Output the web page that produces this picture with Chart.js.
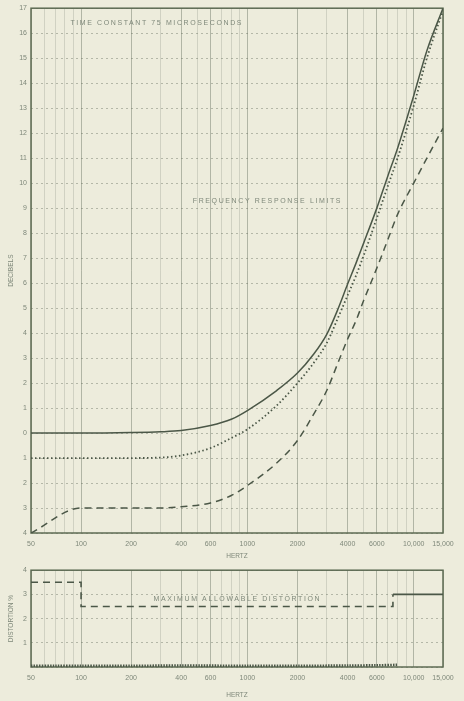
<!DOCTYPE html>
<html><head><meta charset="utf-8">
<script src="https://cdn.jsdelivr.net/npm/chart.js@4.4.1/dist/chart.umd.min.js"></script>
<style>
html,body{margin:0;padding:0;background:#edecdc;}
#wrap{position:relative;width:464px;height:701px;overflow:hidden;background:#edecdc;}
#c1{position:absolute;left:0;top:0;}
#c2{position:absolute;left:0;top:562px;}
</style></head><body>
<div id="wrap"><canvas id="c1" width="464" height="562"></canvas><canvas id="c2" width="464" height="139"></canvas></div>
<script>
// ---------- DATA ----------
const freqs = [50,100,200,300,400,600,800,1000,1500,2000,2500,3000,3500,4000,4500,5000,6000,7000,8000,10000,12000,15000];
const standardCurve = [0,0,0.02,0.05,0.1,0.3,0.55,0.9,1.7,2.4,3.15,3.95,4.95,5.95,6.8,7.6,9.0,10.3,11.4,13.5,15.3,17.0];
const dottedLimit   = [-1,-1,-1,-0.98,-0.9,-0.6,-0.2,0.15,1.1,2.0,2.8,3.6,4.6,5.5,6.3,7.1,8.6,9.9,11.0,13.1,15.0,16.9];
const lowerLimit    = [-4,-3,-3,-3,-2.95,-2.8,-2.5,-2.1,-1.2,-0.3,0.75,1.7,2.8,3.75,4.5,5.3,6.6,7.75,8.75,10.0,11.0,12.2];

const distLimitFreqs = [50,100,7500,15000];
const distLimitVals  = [3.5,2.5,3.0,3.0];
const distMeasFreqs  = [50,70,100,200,400,1000,2000,4000,6000,8000];
const distMeasVals   = [0.05,0.05,0.05,0.05,0.06,0.05,0.05,0.06,0.07,0.09];

const gridFreqs = [50,60,70,80,90,100,200,300,400,500,600,700,800,900,1000,2000,3000,4000,5000,6000,7000,8000,9000,10000,15000];
const labelFreqs = [50,100,200,400,600,1000,2000,4000,6000,10000,15000];
const labelTexts = ['50','100','200','400','600','1000','2000','4000','6000','10,000','15,000'];

const noteTexts = ['TIME CONSTANT 75 MICROSECONDS','FREQUENCY RESPONSE LIMITS'];
const noteFreqs = [285,1320];
const noteVals  = [16.4,9.3];
const distNoteText = 'MAXIMUM ALLOWABLE DISTORTION';
const distNoteFreq = 870;
const distNoteVal  = 2.8;

// ---------- STYLE ----------
const LINE = '#4b5747';
const BOX = '#5d6b53';
const TXT = '#7f887a';
const FONT = 'Liberation Sans';

const xy = (xs, ys) => xs.map((x,i)=>({x, y: ys[i]}));

const boxPlugin = {
  id:'box',
  beforeDatasetsDraw(chart){
    const {ctx, chartArea:a} = chart;
    ctx.save();
    ctx.strokeStyle = BOX; ctx.lineWidth = 1.5;
    ctx.strokeRect(a.left, a.top, a.right-a.left, a.bottom-a.top);
    ctx.restore();
  }
};
function notePlugin(texts, fs, vs){
  return {
    id:'notes',
    afterDatasetsDraw(chart){
      const {ctx, scales} = chart;
      ctx.save();
      ctx.fillStyle = TXT; ctx.font = '7px "'+FONT+'"';
      try { ctx.letterSpacing = '1.6px'; } catch(e) {}
      ctx.textAlign='center'; ctx.textBaseline='middle';
      texts.forEach((t,i)=>{
        ctx.fillText(t, scales.x.getPixelForValue(fs[i]), scales.y.getPixelForValue(vs[i]));
      });
      ctx.restore();
    }
  };
}

function xScale(h){
  return {
    type:'logarithmic', min:50, max:15000,
    afterBuildTicks: s => { s.ticks = gridFreqs.map(v=>({value:v})); },
    afterFit: s => { s.height = h; },
    ticks:{ autoSkip:false, maxRotation:0, minRotation:0, padding:7, color:TXT,
      font:{family:FONT, size:7},
      callback: v => { const i = labelFreqs.indexOf(v); return i>=0 ? labelTexts[i] : ''; } },
    grid:{ drawTicks:false,
      color: c => (c.tick && labelFreqs.includes(c.tick.value)) ? 'rgba(95,105,88,0.42)' : 'rgba(95,105,88,0.2)',
      lineWidth:1 },
    border:{ display:false },
    title:{ display:true, text:'HERTZ', color:TXT, font:{family:FONT, size:6.5}, padding:{top:0,bottom:2} }
  };
}

Chart.defaults.animation = false;

new Chart(document.getElementById('c1'), {
  type:'line',
  data:{ datasets:[
    { data: xy(freqs, standardCurve), borderColor:LINE, borderWidth:1.5, pointRadius:0, cubicInterpolationMode:'monotone', fill:false },
    { data: xy(freqs, dottedLimit), borderColor:LINE, borderWidth:1.8, borderDash:[1.5,2.5], pointRadius:0, cubicInterpolationMode:'monotone', fill:false },
    { data: xy(freqs, lowerLimit), borderColor:LINE, borderWidth:1.5, borderDash:[7,5], pointRadius:0, cubicInterpolationMode:'monotone', fill:false }
  ]},
  options:{
    responsive:false, devicePixelRatio:1,
    layout:{ padding:{left:0, right:21, top:8, bottom:0} },
    plugins:{ legend:{display:false}, tooltip:{enabled:false} },
    scales:{
      x: xScale(29),
      y: { min:-4, max:17,
        afterFit: s => { s.width = 31; },
        ticks:{ stepSize:1, padding:4, color:TXT, font:{family:FONT, size:7}, callback: v => String(Math.abs(v)) },
        grid:{ drawTicks:false, color:'rgba(95,105,88,0.4)', lineWidth:1 },
        border:{ display:false, dash:[2,3] },
        title:{ display:true, text:'DECIBELS', color:TXT, font:{family:FONT, size:6.5}, padding:{top:7,bottom:0} }
      }
    }
  },
  plugins:[boxPlugin, notePlugin(noteTexts, noteFreqs, noteVals)]
});

new Chart(document.getElementById('c2'), {
  type:'line',
  data:{ datasets:[
    { data: xy(distLimitFreqs, distLimitVals), borderColor:LINE, borderWidth:1.6, stepped:'before', pointRadius:0, fill:false,
      borderDash:[7,5],
      segment:{ borderDash: c => c.p0.parsed.x >= 7000 ? [] : [7,5] } },
    { data: xy(distMeasFreqs, distMeasVals), borderColor:LINE, borderWidth:2.6, borderDash:[1.5,1.2], pointRadius:0, tension:0.3, fill:false }
  ]},
  options:{
    responsive:false, devicePixelRatio:1,
    layout:{ padding:{left:0, right:21, top:6, bottom:0} },
    plugins:{ legend:{display:false}, tooltip:{enabled:false} },
    scales:{
      x: xScale(34),
      y: { min:0, max:4,
        afterFit: s => { s.width = 31; },
        ticks:{ stepSize:1, padding:4, color:TXT, font:{family:FONT, size:7}, callback: v => v===0 ? '' : String(v) },
        grid:{ drawTicks:false, color:'rgba(95,105,88,0.4)', lineWidth:1 },
        border:{ display:false, dash:[2,3] },
        title:{ display:true, text:'DISTORTION %', color:TXT, font:{family:FONT, size:6.5}, padding:{top:7,bottom:0} }
      }
    }
  },
  plugins:[boxPlugin, notePlugin([distNoteText],[distNoteFreq],[distNoteVal])]
});
</script>
</body></html>
